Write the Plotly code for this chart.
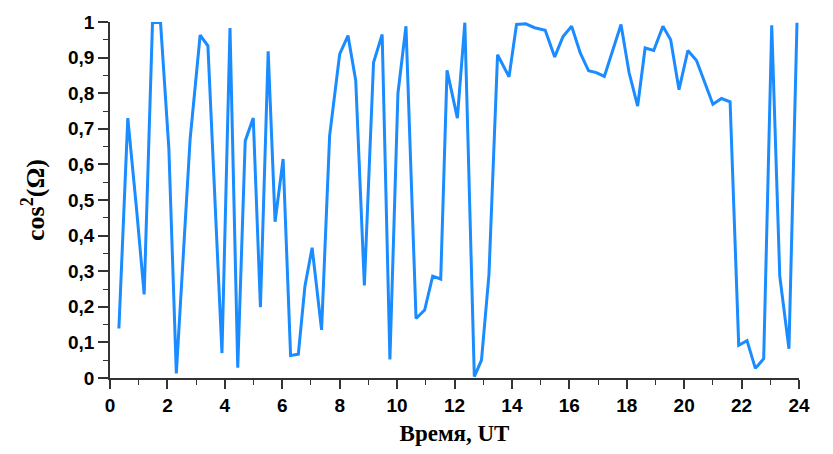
import plotly.graph_objects as go

# Time (UT hours) and cos^2(Omega) samples
time_ut = [0.31, 0.62, 0.93, 1.19, 1.48, 1.76, 2.05, 2.31, 2.79, 3.14, 3.41, 3.90,
           4.18, 4.45, 4.71, 4.99, 5.24, 5.51, 5.75, 6.03, 6.29, 6.56, 6.79, 7.04,
           7.37, 7.65, 8.00, 8.29, 8.56, 8.86, 9.18, 9.48, 9.75, 10.03, 10.31, 10.66,
           10.96, 11.24, 11.52, 11.74, 12.10, 12.36, 12.69, 12.94, 13.20, 13.50, 13.90,
           14.16, 14.48, 14.79, 15.16, 15.49, 15.78, 16.08, 16.38, 16.67, 16.94, 17.22,
           17.80, 18.08, 18.38, 18.64, 18.94, 19.26, 19.53, 19.82, 20.13, 20.43, 21.00,
           21.30, 21.60, 21.90, 22.19, 22.48, 22.77, 23.05, 23.33, 23.65, 23.93]
cos2_omega = [0.139, 0.73, 0.47, 0.235, 0.998, 0.999, 0.645, 0.013, 0.67, 0.963, 0.933, 0.07,
              0.983, 0.029, 0.666, 0.73, 0.199, 0.918, 0.439, 0.615, 0.063, 0.067, 0.258, 0.366,
              0.135, 0.68, 0.91, 0.962, 0.835, 0.26, 0.886, 0.965, 0.052, 0.80, 0.988, 0.167,
              0.191, 0.286, 0.278, 0.864, 0.73, 0.998, 0.004, 0.05, 0.29, 0.908, 0.846,
              0.993, 0.995, 0.984, 0.977, 0.902, 0.959, 0.988, 0.913, 0.863, 0.858, 0.847,
              0.993, 0.858, 0.764, 0.927, 0.920, 0.988, 0.950, 0.81, 0.920, 0.892, 0.769,
              0.785, 0.776, 0.092, 0.105, 0.027, 0.054, 0.991, 0.286, 0.082, 0.998]

x_tick_vals = list(range(0, 25, 2))
x_tick_text = [str(v) for v in x_tick_vals]
y_tick_vals = [i / 10 for i in range(11)]
y_tick_text = ["0", "0,1", "0,2", "0,3", "0,4", "0,5", "0,6", "0,7", "0,8", "0,9", "1"]

fig = go.Figure()
fig.add_trace(go.Scatter(
    x=time_ut, y=cos2_omega, mode="lines",
    line=dict(color="#1a8cff", width=3),
    cliponaxis=False, showlegend=False,
))

tick_font = dict(family="Liberation Sans, Arial, sans-serif", size=19, color="black", weight="bold")
title_font = dict(family="Liberation Serif, Times New Roman, serif", color="black", weight="bold")

fig.update_xaxes(
    range=[0, 24], tickvals=x_tick_vals, ticktext=x_tick_text,
    showgrid=False, zeroline=False, showline=True, linecolor="#333", linewidth=1.5,
    ticks="outside", ticklen=9, tickwidth=1.5, tickcolor="#333",
    minor=dict(dtick=1, ticks="outside", ticklen=5, tickwidth=1.2, tickcolor="#333", showgrid=False),
    tickfont=tick_font,
    title=dict(text="Время, UT", font=dict(size=23, **title_font), standoff=10),
)
fig.update_yaxes(
    range=[0, 1], tickvals=y_tick_vals, ticktext=y_tick_text,
    showgrid=False, zeroline=False, showline=True, linecolor="#333", linewidth=1.5,
    ticks="outside", ticklen=10, tickwidth=1.5, tickcolor="#333",
    minor=dict(dtick=0.05, ticks="outside", ticklen=5, tickwidth=1.2, tickcolor="#333", showgrid=False),
    tickfont=tick_font,
    title=dict(text="cos<sup>2</sup>(Ω)", font=dict(size=26, **title_font), standoff=16),
)
fig.update_layout(
    width=833, height=454,
    margin=dict(l=110, r=34, t=15, b=75),
    paper_bgcolor="white", plot_bgcolor="white",
)
fig.write_html("out.html")
